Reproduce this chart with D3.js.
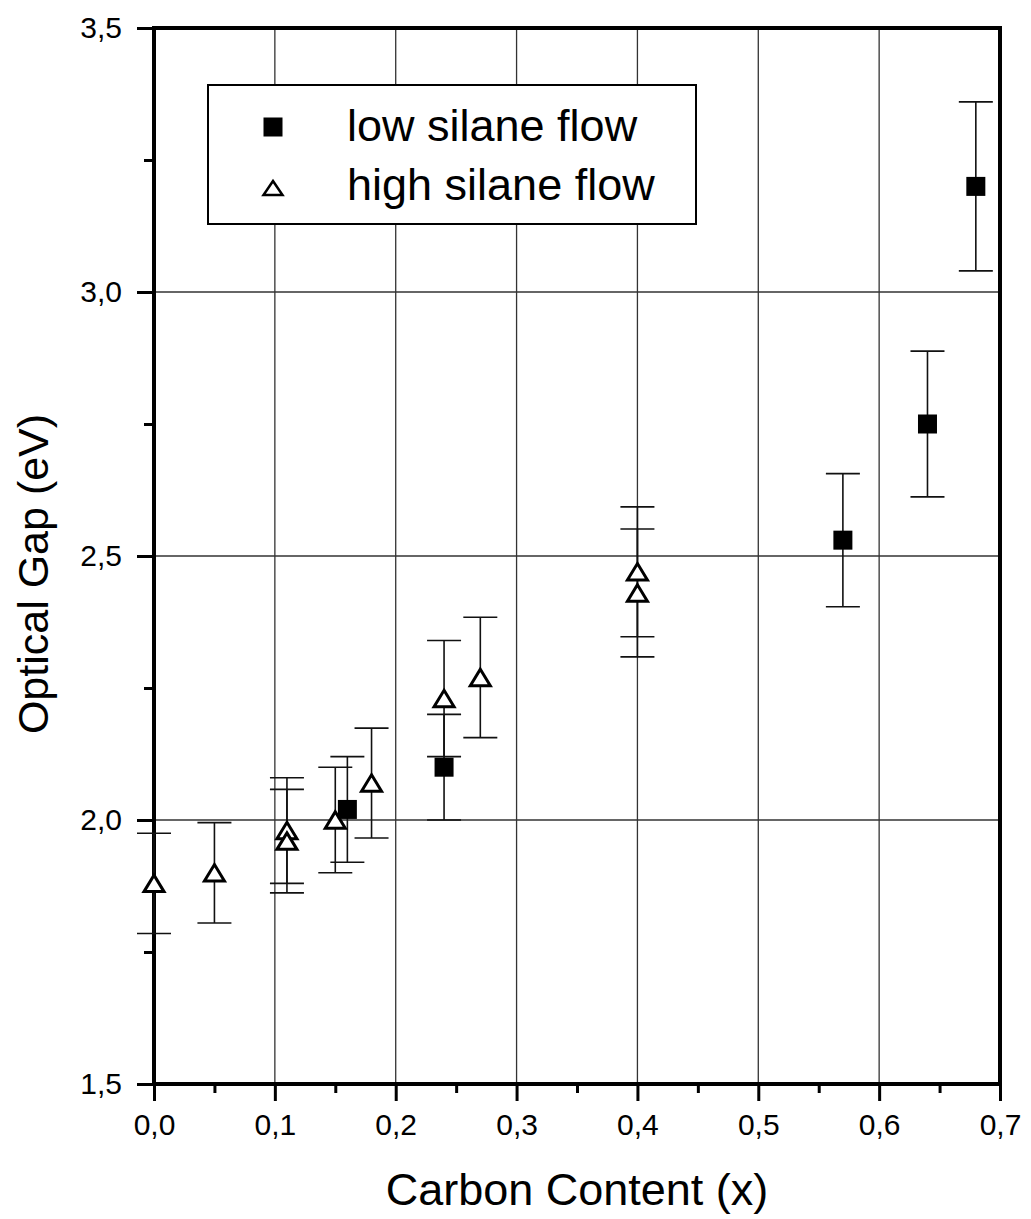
<!DOCTYPE html>
<html>
<head>
<meta charset="utf-8">
<script src="https://cdn.jsdelivr.net/npm/d3@7"></script>
<style>
  body { margin: 0; background: #fff; }
  text { font-family: "Liberation Sans", Arial, sans-serif; fill: #000; }
</style>
</head>
<body>
<div id="chart"></div>
<script>
// Data
var lowX   = [0.16, 0.24, 0.57, 0.64, 0.68];
var lowY   = [2.02, 2.10, 2.53, 2.75, 3.20];
var lowErr = [0.10, 0.10, 0.126, 0.138, 0.16];

var highX   = [0.00, 0.05, 0.11, 0.11, 0.15, 0.18, 0.24, 0.27, 0.40, 0.40];
var highY   = [1.88, 1.90, 1.98, 1.96, 2.00, 2.07, 2.23, 2.27, 2.47, 2.43];
var highErr = [0.095, 0.095, 0.10, 0.098, 0.10, 0.104, 0.11, 0.114, 0.123, 0.121];

var xTicks = [0, 0.1, 0.2, 0.3, 0.4, 0.5, 0.6, 0.7];
var xMinor = [0.05, 0.15, 0.25, 0.35, 0.45, 0.55, 0.65];
var yTicks = [1.5, 2.0, 2.5, 3.0, 3.5];
var yMinor = [1.75, 2.25, 2.75, 3.25];

var seriesNames = ["low silane flow", "high silane flow"];

var W = 1031, H = 1219;
var mar = {left: 154, top: 28, right: 31, bottom: 135};
var pw = W - mar.left - mar.right, ph = H - mar.top - mar.bottom;

// comma as decimal separator
var loc = d3.formatLocale({decimal: ",", thousands: ".", grouping: [3], currency: ["", ""]});
var fmt = loc.format(".1f");

var svg = d3.select("#chart")
    .append("svg")
    .attr("width", W)
    .attr("height", H);

var g = svg.append("g")
    .attr("transform", "translate(" + mar.left + "," + mar.top + ")");

var x = d3.scaleLinear().domain([0, 0.7]).range([0, pw]);
var y = d3.scaleLinear().domain([1.5, 3.5]).range([ph, 0]);

// grid lines
g.selectAll(".vgrid")
    .data(xTicks.slice(1, -1))
    .enter().append("line")
    .attr("x1", function(d){ return x(d) }).attr("x2", function(d){ return x(d) })
    .attr("y1", 0).attr("y2", ph)
    .attr("stroke", "#333").attr("stroke-width", 1.3);
g.selectAll(".hgrid")
    .data(yTicks.slice(1, -1))
    .enter().append("line")
    .attr("y1", function(d){ return y(d) }).attr("y2", function(d){ return y(d) })
    .attr("x1", 0).attr("x2", pw)
    .attr("stroke", "#333").attr("stroke-width", 1.3);

// legend box (covers the grid)
var leg = svg.append("g");
leg.append("rect")
    .attr("x", 208).attr("y", 85).attr("width", 488).attr("height", 139)
    .attr("fill", "#fff").attr("stroke", "#000").attr("stroke-width", 2);

// axes
function styleAxis(sel) {
    sel.select(".domain").remove();
    sel.selectAll(".tick line").attr("stroke", "#000").attr("stroke-width", 3);
    sel.selectAll(".tick text").style("font-size", "30px");
}

g.append("g")
    .attr("transform", "translate(0," + ph + ")")
    .call(d3.axisBottom(x).tickValues(xTicks).tickFormat(fmt).tickSize(17).tickPadding(13))
    .call(styleAxis);
g.append("g")
    .attr("transform", "translate(0," + ph + ")")
    .call(d3.axisBottom(x).tickValues(xMinor).tickFormat("").tickSize(9))
    .call(styleAxis);
g.append("g")
    .call(d3.axisLeft(y).tickValues(yTicks).tickFormat(fmt).tickSize(17).tickPadding(15))
    .call(styleAxis);
g.append("g")
    .call(d3.axisLeft(y).tickValues(yMinor).tickFormat("").tickSize(10))
    .call(styleAxis);

// frame
g.append("rect")
    .attr("x", 0).attr("y", 0).attr("width", pw).attr("height", ph)
    .attr("fill", "none").attr("stroke", "#000").attr("stroke-width", 4);

// error bars
function errorBars(xs, ys, es) {
    var cap = 17;
    var eb = g.append("g").attr("stroke", "#111").attr("stroke-width", 1.6);
    xs.forEach(function(v, i){
        var cx = x(v), lo = y(ys[i] - es[i]), hi = y(ys[i] + es[i]);
        eb.append("line").attr("x1", cx).attr("x2", cx).attr("y1", lo).attr("y2", hi);
        eb.append("line").attr("x1", cx - cap).attr("x2", cx + cap).attr("y1", lo).attr("y2", lo);
        eb.append("line").attr("x1", cx - cap).attr("x2", cx + cap).attr("y1", hi).attr("y2", hi);
    });
}
errorBars(lowX, lowY, lowErr);
errorBars(highX, highY, highErr);

function triPath(cx, cy, w, h) {
    return "M" + cx + "," + (cy - h / 2) + "L" + (cx + w / 2) + "," + (cy + h / 2) +
           "L" + (cx - w / 2) + "," + (cy + h / 2) + "Z";
}

// high silane flow: open triangles
g.selectAll(".tri")
    .data(highX)
    .enter().append("path")
    .attr("d", function(d, i){ return triPath(x(d), y(highY[i]), 20, 16.5) })
    .attr("fill", "#fff").attr("stroke", "#000").attr("stroke-width", 3)
    .attr("stroke-linejoin", "miter");

// low silane flow: filled squares
var sq = 19;
g.selectAll(".sq")
    .data(lowX)
    .enter().append("rect")
    .attr("x", function(d){ return x(d) - sq / 2 })
    .attr("y", function(d, i){ return y(lowY[i]) - sq / 2 })
    .attr("width", sq).attr("height", sq)
    .attr("fill", "#000");

// legend entries
leg.append("rect")
    .attr("x", 273 - 9.5).attr("y", 127 - 9.5).attr("width", 19).attr("height", 19)
    .attr("fill", "#000");
leg.append("path")
    .attr("d", triPath(273, 188, 19, 14))
    .attr("fill", "#fff").attr("stroke", "#000").attr("stroke-width", 2.5);
leg.selectAll(".ltext")
    .data(seriesNames)
    .enter().append("text")
    .attr("x", 347)
    .attr("y", function(d, i){ return 141 + i * 59 })
    .style("font-size", "45px")
    .text(function(d){ return d });

// axis titles
svg.append("text")
    .attr("x", mar.left + pw / 2).attr("y", 1205)
    .attr("text-anchor", "middle")
    .style("font-size", "45px")
    .text("Carbon Content (x)");
svg.append("text")
    .attr("transform", "translate(48," + 574 + ") rotate(-90)")
    .attr("text-anchor", "middle")
    .style("font-size", "43px")
    .text("Optical Gap (eV)");
</script>
</body>
</html>
